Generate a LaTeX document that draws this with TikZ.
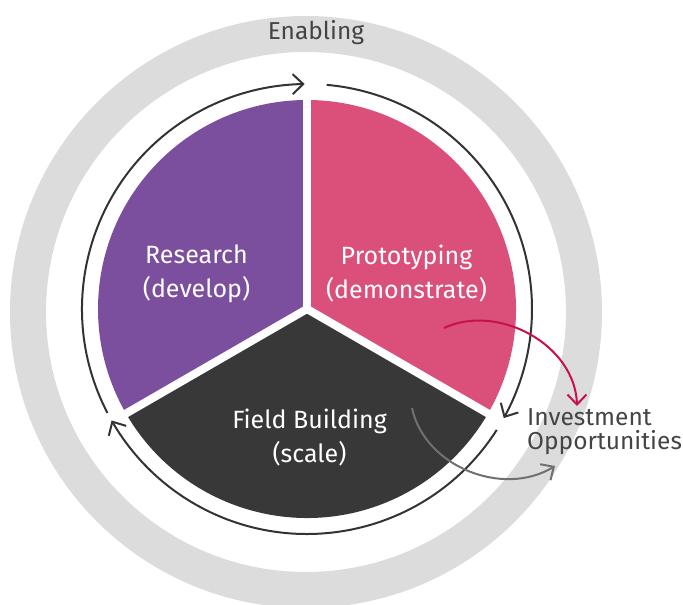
\documentclass[tikz,border=0pt]{standalone}
\usepackage{fontspec}
\setmainfont{Fira Sans}
\usetikzlibrary{arrows.meta,bending}
\definecolor{ringgray}{RGB}{220,220,220}
\definecolor{respurple}{RGB}{123,79,157}
\definecolor{protopink}{RGB}{219,80,122}
\definecolor{fielddark}{RGB}{56,56,56}
\definecolor{cyclearc}{RGB}{51,51,51}
\definecolor{invcrimson}{RGB}{200,16,78}
\definecolor{invgray}{RGB}{112,112,112}
\definecolor{labelgray}{RGB}{68,68,68}
\tikzset{
  cyclearrow/.style={draw=cyclearc, line width=2pt, -{Straight Barb[length=10.5pt,width=20pt,flex]}},
  sectorlabel/.style={text=white, align=center, font=\fontsize{25}{34}\selectfont, inner sep=0pt},
  outerlabel/.style={text=labelgray, inner sep=0pt},
  invarrow/.style={line width=2pt, -{Straight Barb[length=10pt,width=19pt,flex]}},
  separator/.style={draw=white, line width=8pt}
}
\begin{document}
\begin{tikzpicture}[x=1pt,y=1pt]
\useasboundingbox (0,0) rectangle (683,605);
\coordinate (G) at (306,293);
\coordinate (C) at (307,296);
% enabling ring
\fill[ringgray, even odd rule] (G) circle (296) (G) circle (260);
% sectors
\fill[respurple] (C) -- ++(90:209) arc (90:210:209) -- cycle;
\fill[protopink] (C) -- ++(-30:209) arc (-30:90:209) -- cycle;
\fill[fielddark] (C) -- ++(210:209) arc (210:330:209) -- cycle;
\draw[separator] (C) -- ++(90:214);
\draw[separator] (C) -- ++(210:214);
\draw[separator] (C) -- ++(330:214);
% cycle arrows
\draw[cyclearrow] ([shift={(207.5:225)}]C) arc (207.5:90.6:225);
\draw[cyclearrow] ([shift={(85:225)}]C) arc (85:-29:225);
\draw[cyclearrow] ([shift={(-32.5:225)}]C) arc (-32.5:-150.3:225);
% labels
\node[outerlabel, font=\fontsize{24.5}{26}\selectfont] (enab) at (316,572) {Enabling};
\node[sectorlabel] (res) at (196.5,331) {Research\\(develop)};
\node[sectorlabel] (proto) at (406.5,331) {Prototyping\\(demonstrate)};
\node[sectorlabel] (field) at (309.5,167.5) {Field Building\\(scale)};
\node[outerlabel, align=left, anchor=west, font=\fontsize{24.5}{24}\selectfont] (inv) at (527,173) {Investment\\Opportunities};
% investment arrows
\coordinate (pstart) at (444,277);
\coordinate (pend) at (577,199);
\coordinate (fstart) at (412,197);
\coordinate (fend) at (555,139);
\draw[invarrow, draw=invcrimson] (pstart) to[out=25, in=90] (pend);
\draw[invarrow, draw=invgray] (fstart) to[out=-78, in=213] (fend);
\end{tikzpicture}
\end{document}
